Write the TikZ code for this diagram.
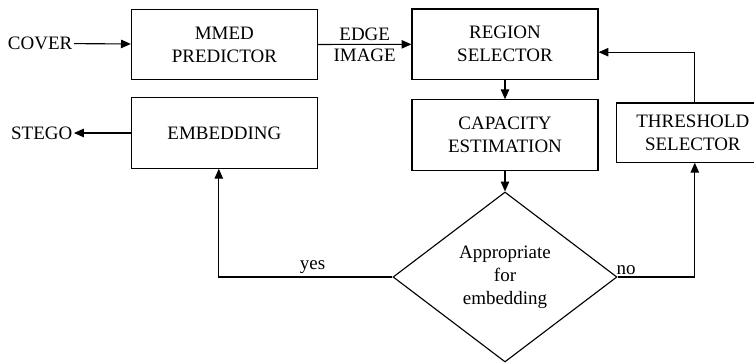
\documentclass[tikz,border=0pt]{standalone}
\usepackage{fontspec}
\setmainfont{Liberation Serif}
\usetikzlibrary{arrows.meta,shapes.geometric}
\begin{document}
\begin{tikzpicture}[font=\fontsize{13.5}{16.4}\selectfont,
  box/.style={draw, thick, align=center, inner sep=0pt, minimum width=4.65cm, minimum height=1.76cm},
  arr/.style={-{Triangle[length=7pt,width=6pt]}, thick}]
\useasboundingbox (0,0) rectangle (18.85,9.075);
\node[box] (pred) at (5.61,7.96) {MMED\\PREDICTOR};
\node[box] (region) at (12.625,7.97) {REGION\\SELECTOR};
\node[box] (embed) at (5.61,5.75) {EMBEDDING};
\node[box] (capac) at (12.625,5.7) {CAPACITY\\ESTIMATION};
\node[box, minimum width=3.8cm, minimum height=1.48cm] (thresh) at (17.32,5.76) {THRESHOLD\\SELECTOR};
\node[draw, thick, diamond, align=center, inner sep=0pt, minimum width=5.6cm, minimum height=4.25cm] (dec) at (12.625,2.15) {Appropriate\\for\\embedding};
\node[anchor=east, inner sep=1pt] (cover) at (1.85,7.99) {COVER};
\node[anchor=east, inner sep=1pt] (stego) at (1.85,5.75) {STEGO};
\draw[arr] (cover) -- (pred);
\draw[arr] (pred) -- (region) node[midway, above, inner sep=2.5pt]{EDGE} node[midway, below, inner sep=2.5pt]{IMAGE};
\draw[arr] (region) -- (capac);
\draw[arr] (capac) -- (dec);
\draw[arr] (embed) -- (stego);
\draw[arr] (dec.west) -| ([xshift=-0.14cm]embed.south) node[pos=0.23, above, inner sep=2pt]{yes};
\draw[arr] (dec.east) -| ([xshift=0.05cm]thresh.south) node[pos=0, above right, inner sep=1pt, xshift=-2pt]{no};
\draw[arr] ([xshift=0.05cm]thresh.north) |- ([yshift=-0.2cm]region.east);
\end{tikzpicture}
\end{document}
